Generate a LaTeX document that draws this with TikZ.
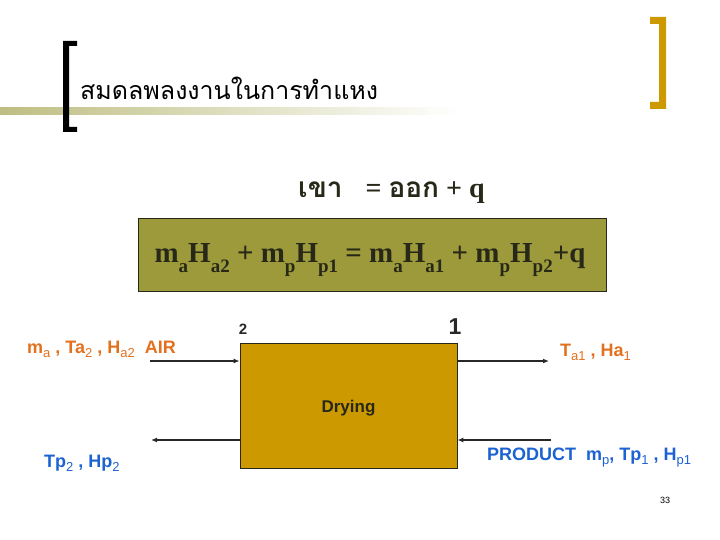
\documentclass[tikz,border=0pt]{standalone}
\usepackage{fontspec}
\usetikzlibrary{arrows.meta}
\setmainfont{Liberation Sans}
\newfontfamily\thaifont[Script=Thai]{Loma}
\newfontfamily\timesf{Liberation Serif}
\definecolor{olivebox}{RGB}{156,154,58}
\definecolor{olivetext}{RGB}{40,40,25}
\definecolor{goldbox}{RGB}{204,153,0}
\definecolor{lineolive}{RGB}{190,190,130}
\definecolor{orangetxt}{RGB}{226,112,30}
\definecolor{bluetxt}{RGB}{28,98,210}
\definecolor{darkline}{RGB}{40,40,40}
\newcommand{\lsub}[1]{\raisebox{-4.5pt}{\fontsize{13}{14}\selectfont\mdseries #1}}
\newcommand{\bsub}[1]{\raisebox{-10pt}{\fontsize{19}{20}\selectfont #1}}
\tikzset{
  arr/.style={draw=darkline, line width=1.9pt, -{Latex[length=6pt,width=5pt]}},
  lbl/.style={anchor=base west, inner sep=0pt, font=\fontsize{18}{20}\selectfont\bfseries},
}
\begin{document}
\begin{tikzpicture}[x=1pt,y=-1pt]
\useasboundingbox (0,0) rectangle (720,540);
% title decoration
\shade[left color=lineolive, right color=white] (0,108) rectangle (460,115);
\fill[black] (63,41) -- (77,41) -- (77,46) -- (69,46) -- (69,127) -- (77,127) -- (77,132) -- (63,132) -- cycle;
\fill[goldbox] (666,17) -- (650,17) -- (650,24) -- (659,24) -- (659,102) -- (650,102) -- (650,109) -- (666,109) -- cycle;
\node[anchor=base west, inner sep=0pt] (title) at (80,100) {\thaifont\fontsize{25}{28}\selectfont สมดลพลงงานในการทำแหง};
% word equation
\node[anchor=base west, inner sep=0pt, text=olivetext] (weq) at (298,197) {\thaifont\bfseries\fontsize{28}{30}\selectfont เขา\hspace{23pt}{\timesf=\ }ออก{\timesf\ +\ q}};
% equation box
\node[draw=olivetext, line width=1pt, fill=olivebox, minimum width=468, minimum height=72, inner sep=0pt] (eqbox) at (372,255) {};
\node[anchor=base, inner sep=0pt, text=olivetext] (eq) at (370,262) {\timesf\bfseries\fontsize{29}{32}\selectfont m\bsub{a}H\bsub{a2} + m\bsub{p}H\bsub{p1} = m\bsub{a}H\bsub{a1} + m\bsub{p}H\bsub{p2}+q};
% drying box
\node[draw=olivetext, line width=0.8pt, fill=goldbox, minimum width=217, minimum height=125, inner sep=0pt] (dry) at (348.5,405.5) {};
\node[inner sep=0pt, text=olivetext, font=\fontsize{17}{19}\selectfont\bfseries] (drylbl) at ([yshift=-3pt]dry.center) {Drying};
\node[font=\fontsize{15}{16}\selectfont\bfseries, text=darkline, inner sep=0pt] (two) at (243,329) {2};
\node[font=\fontsize{23}{24}\selectfont\bfseries, text=darkline, inner sep=0pt] (one) at (455,327) {1};
% arrows
\coordinate (airin) at (150,361);
\coordinate (airout) at (549,361);
\coordinate (prodout) at (151,440);
\coordinate (prodin) at (551,440);
\draw[arr] (airin) -- (dry.west |- airin);
\draw[arr] (dry.east |- airout) -- (airout);
\draw[arr] (dry.west |- prodout) -- (prodout);
\draw[arr] (prodin) -- (dry.east |- prodin);
% labels
\node[lbl, text=orangetxt] (airlbl) at (27,353) {m\lsub{a} , Ta\lsub{2} , H\lsub{a2}\ \ AIR};
\node[lbl, text=orangetxt] (outlbl) at (560,356) {T\lsub{a1} , Ha\lsub{1}};
\node[lbl, text=bluetxt] (tplbl) at (44,467) {Tp\lsub{2} , Hp\lsub{2}};
\node[lbl, text=bluetxt] (prodlbl) at (487,460) {PRODUCT\ \ m\lsub{p}, Tp\lsub{1} , H\lsub{p1}};
\node[inner sep=0pt, font=\fontsize{9}{10}\selectfont] (pg) at (665,500) {33};
\end{tikzpicture}
\end{document}
